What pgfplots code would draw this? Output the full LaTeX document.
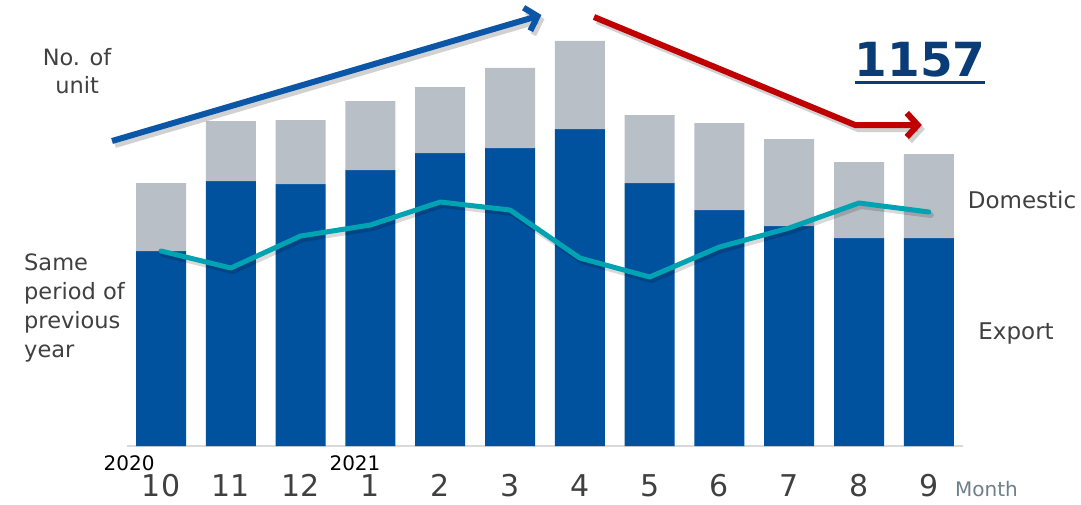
\documentclass[border=0pt]{standalone}
\usepackage{pgfplots}
\pgfplotsset{compat=1.18}
\usepackage{fontspec}
\setmainfont{DejaVu Sans}
\usetikzlibrary{arrows.meta}
\definecolor{expblue}{HTML}{00519E}
\definecolor{domgray}{HTML}{B8BFC6}
\definecolor{teal2}{HTML}{00A3B1}
\definecolor{arrblue}{HTML}{0B56A6}
\definecolor{arrred}{HTML}{C00000}
\definecolor{navy}{HTML}{0A3D78}
\definecolor{txt}{HTML}{404040}
\definecolor{monthc}{HTML}{6E7F8C}
\begin{document}
\begin{tikzpicture}
\begin{axis}[
  scale only axis, width=1081pt, height=504pt,
  xmin=-2.307, xmax=13.18, ymin=-58, ymax=446,
  hide axis, clip=false,
]
% invisible frame
\addplot[draw=none] coordinates {(-2.307,-58) (13.18,446)};
% baseline
\addplot[draw={rgb,255:red,217;green,217;blue,217}, line width=1.5pt] coordinates {(-0.49,0) (11.49,0)};
% stacked bars
\addplot[ybar stacked, bar width=50pt, fill=expblue, draw=none, forget plot] coordinates
 {(0,195) (1,265) (2,262) (3,276) (4,293) (5,298) (6,317) (7,263) (8,236) (9,220) (10,208) (11,208)};
\addplot[ybar stacked, bar width=50pt, fill=domgray, draw=none, forget plot] coordinates
 {(0,68) (1,60) (2,64) (3,69) (4,66) (5,80) (6,88) (7,68) (8,87) (9,87) (10,76) (11,84)};
\end{axis}
\begin{axis}[
  scale only axis, width=1081pt, height=504pt,
  xmin=-2.307, xmax=13.18, ymin=-58, ymax=446,
  hide axis, clip=false,
]
% line shadow
\addplot[black, opacity=0.15, line width=6pt, line join=round, line cap=round, shift={(2pt,-3pt)}] coordinates
 {(0,195) (1,178) (2,210) (3,221) (4,244) (5,236) (6,188) (7,169) (8,199) (9,218) (10,243) (11,234)};
% previous year line
\addplot[teal2, line width=5pt, line join=round, line cap=round] coordinates
 {(0,195) (1,178) (2,210) (3,221) (4,244) (5,236) (6,188) (7,169) (8,199) (9,218) (10,243) (11,234)};
% arrows shadows
\addplot[black, opacity=0.18, line width=6pt, shift={(3pt,-4pt)}, -{Straight Barb[length=11pt,width=24pt]}] coordinates {(-0.702,305) (5.45,431)};
\addplot[black, opacity=0.18, line width=6pt, shift={(3pt,-4pt)}, -{Straight Barb[length=11pt,width=24pt]}] coordinates {(6.203,429) (9.943,321) (10.90,321)};
% arrows
\addplot[arrblue, line width=6pt, -{Straight Barb[length=11pt,width=24pt]}] coordinates {(-0.702,305) (5.45,431)};
\addplot[arrred, line width=6pt, -{Straight Barb[length=11pt,width=24pt]}] coordinates {(6.203,429) (9.943,321) (10.90,321)};
% texts
\node[txt, font=\fontsize{22.5}{28}\selectfont, align=center] at (axis cs:-1.203,375) {No. of\\unit};
\node[txt, font=\fontsize{22.5}{29}\selectfont, align=left, anchor=west, inner sep=0pt] at (axis cs:-1.963,138) {Same\\period of\\previous\\year};
\node[txt, font=\fontsize{23}{27}\selectfont] at (axis cs:12.335,246) {Domestic};
\node[txt, font=\fontsize{23}{27}\selectfont] at (axis cs:12.25,113) {Export};
\node[navy, font=\fontsize{47}{50}\selectfont\bfseries, inner sep=0pt, outer sep=0pt] (u) at (axis cs:10.874,386) {1157};
\draw[navy, line width=3pt] ([yshift=-5pt]u.south west) -- ([yshift=-5pt]u.south east);
% tick labels
\tikzset{tl/.style={txt, anchor=base, inner sep=0pt, outer sep=0pt, font=\fontsize{30}{34}\selectfont}}
\node[tl] at (axis cs:0,-50) {10};
\node[tl] at (axis cs:1,-50) {11};
\node[tl] at (axis cs:2,-50) {12};
\node[tl] at (axis cs:3,-50) {1};
\node[tl] at (axis cs:4,-50) {2};
\node[tl] at (axis cs:5,-50) {3};
\node[tl] at (axis cs:6,-50) {4};
\node[tl] at (axis cs:7,-50) {5};
\node[tl] at (axis cs:8,-50) {6};
\node[tl] at (axis cs:9,-50) {7};
\node[tl] at (axis cs:10,-50) {8};
\node[tl] at (axis cs:11,-50) {9};
\node[black, anchor=base, inner sep=0pt, font=\fontsize{20}{24}\selectfont] at (axis cs:-0.458,-24) {2020};
\node[black, anchor=base, inner sep=0pt, font=\fontsize{20}{24}\selectfont] at (axis cs:2.779,-24) {2021};
\node[monthc, anchor=base west, inner sep=0pt, font=\fontsize{20}{24}\selectfont] at (axis cs:11.375,-50) {Month};
\end{axis}
\end{tikzpicture}
\end{document}
